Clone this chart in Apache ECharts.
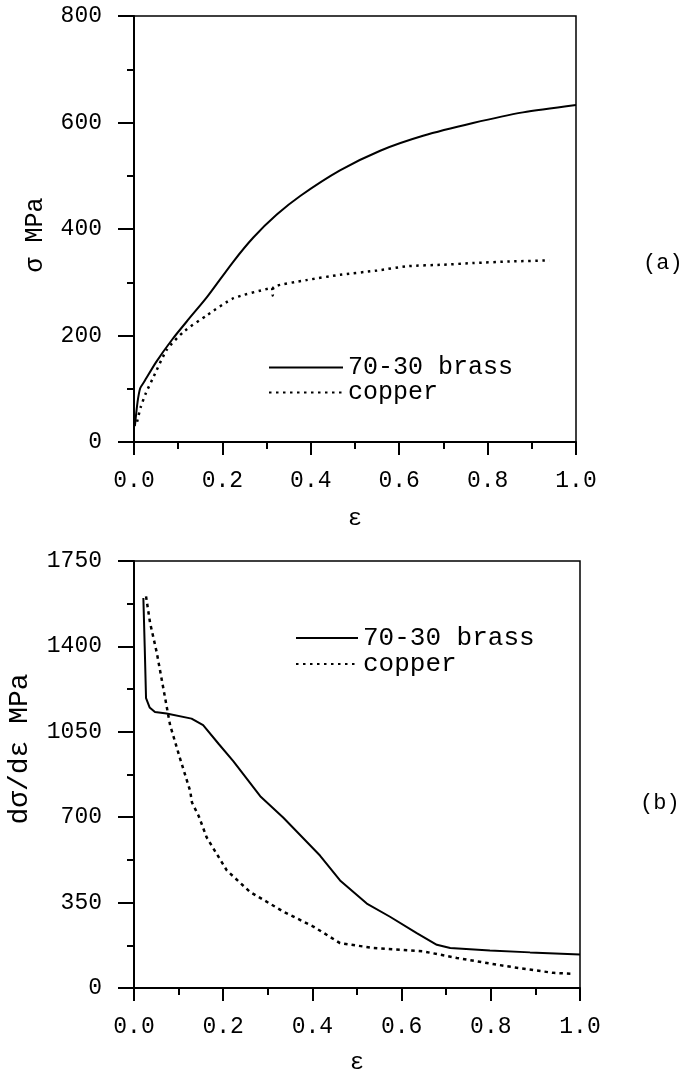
<!DOCTYPE html>
<html>
<head>
<meta charset="utf-8">
<script src="https://cdn.jsdelivr.net/npm/echarts@6/dist/echarts.min.js"></script>
<style>
  html, body { margin: 0; padding: 0; background: #fff; }
  #chart { width: 681px; height: 1076px; }
</style>
</head>
<body>
<div id="chart"></div>
<script>
// (a) true stress vs strain
const strainBrassA = [0.002, 0.008, 0.014, 0.023, 0.05, 0.086, 0.125, 0.165, 0.224, 0.27, 0.323, 0.376, 0.466, 0.557, 0.654, 0.767, 0.88, 1.0];
const stressBrassA = [30, 75, 101, 113, 150, 192, 232, 272, 338, 384, 427, 462, 510, 547, 575, 599, 619, 633];
const strainCopperA = [0.007, 0.015, 0.027, 0.044, 0.074, 0.112, 0.165, 0.225, 0.308, 0.312, 0.314, 0.316, 0.39, 0.466, 0.55, 0.617, 0.7, 0.767, 0.85, 0.94];
const stressCopperA = [38, 65, 92, 122, 173, 207, 238, 270, 289, 290, 275, 291, 304, 314, 322, 330, 333, 336, 339, 341];

// (b) work hardening rate vs strain
const strainBrassB = [0.021, 0.024, 0.027, 0.035, 0.047, 0.073, 0.129, 0.155, 0.19, 0.223, 0.283, 0.335, 0.417, 0.462, 0.522, 0.574, 0.634, 0.679, 0.709, 0.798, 0.888, 1.0];
const rateBrassB = [1598, 1400, 1188, 1150, 1131, 1125, 1104, 1077, 1000, 929, 786, 698, 543, 441, 346, 292, 225, 177, 164, 154, 146, 137];
const strainCopperB = [0.027, 0.036, 0.051, 0.066, 0.081, 0.103, 0.126, 0.13, 0.145, 0.163, 0.208, 0.26, 0.335, 0.402, 0.462, 0.537, 0.649, 0.724, 0.836, 0.94, 0.985];
const rateCopperB = [1605, 1497, 1375, 1226, 1077, 942, 807, 760, 705, 617, 482, 394, 313, 252, 184, 164, 150, 123, 89, 62, 58];

const seriesNames = ['70-30 brass', 'copper'];
const panelLabels = ['(a)', '(b)'];
const yNames = ['σ MPa', 'dσ/dε MPa'];

const FONT = 'Liberation Mono';
const zip = (xs, ys) => xs.map((x, i) => [x, ys[i]]);

const xAxisBase = (gridIndex, nameGap) => ({
  gridIndex,
  type: 'value',
  min: 0,
  max: 1,
  interval: 0.2,
  name: 'ε',
  nameLocation: 'middle',
  nameGap,
  nameTextStyle: { color: '#000', fontFamily: FONT, fontSize: 24 },
  axisLine: { lineStyle: { color: '#000', width: 2 } },
  axisTick: { inside: false, length: 13, lineStyle: { color: '#000', width: 2 } },
  minorTick: { show: true, splitNumber: 2, length: 7, lineStyle: { color: '#000', width: 2 } },
  splitLine: { show: false },
  axisLabel: {
    margin: 27,
    color: '#000',
    fontFamily: FONT,
    fontSize: 23,
    formatter: v => v.toFixed(1)
  }
});

const yAxisBase = (gridIndex, max, interval) => ({
  gridIndex,
  type: 'value',
  min: 0,
  max,
  interval,
  axisLine: { lineStyle: { color: '#000', width: 2 } },
  axisTick: { inside: false, length: 16, lineStyle: { color: '#000', width: 2 } },
  minorTick: { show: true, splitNumber: 2, length: 7, lineStyle: { color: '#000', width: 2 } },
  splitLine: { show: false },
  axisLabel: { margin: 32, color: '#000', fontFamily: FONT, fontSize: 23, formatter: v => String(v) }
});

const lineSeries = (name, idx, data, dash, smooth) => ({
  name,
  type: 'line',
  xAxisIndex: idx,
  yAxisIndex: idx,
  data,
  symbol: 'none',
  showSymbol: false,
  smooth: smooth || false,
  itemStyle: { color: '#000' },
  lineStyle: { color: '#000', width: dash ? 2.5 : 2, type: dash || 'solid' }
});

const legendBase = (left, top, itemWidth, fontSize) => ({
  left,
  top,
  orient: 'vertical',
  padding: 0,
  itemWidth,
  itemHeight: 14,
  itemGap: 0,
  selectedMode: false,
  itemStyle: { opacity: 0 },
  data: seriesNames,
  textStyle: { color: '#000', fontFamily: FONT, fontSize, lineHeight: fontSize }
});

const yNameText = (text, x, y, fontSize) => ({
  type: 'text',
  x,
  y,
  rotation: Math.PI / 2,
  style: { text, fill: '#000', font: fontSize + 'px "' + FONT + '"', align: 'center', verticalAlign: 'middle' }
});

const option = {
  backgroundColor: '#fff',
  animation: false,
  title: [
    { text: panelLabels[0], left: 643, top: 252, padding: 0, textStyle: { color: '#000', fontFamily: FONT, fontSize: 22, fontWeight: 'normal' } },
    { text: panelLabels[1], left: 640, top: 792, padding: 0, textStyle: { color: '#000', fontFamily: FONT, fontSize: 22, fontWeight: 'normal' } }
  ],
  graphic: [
    yNameText(yNames[0], 35, 235, 25),
    yNameText(yNames[1], 20, 749, 28)
  ],
  grid: [
    { left: 134, top: 16, width: 442, height: 426, show: true, borderColor: '#000', borderWidth: 1.5, backgroundColor: 'transparent' },
    { left: 134, top: 561, width: 446, height: 431, show: true, borderColor: '#000', borderWidth: 1.5, backgroundColor: 'transparent' }
  ],
  legend: [
    legendBase(268, 355, 74, 25),
    legendBase(295, 625, 62, 26)
  ],
  xAxis: [xAxisBase(0, 65), xAxisBase(1, 63)],
  yAxis: [yAxisBase(0, 800, 200), yAxisBase(1, 1750, 350)],
  series: [
    lineSeries(seriesNames[0], 0, zip(strainBrassA, stressBrassA), null, 0.25),
    lineSeries(seriesNames[1], 0, zip(strainCopperA, stressCopperA), [2.5, 4.5], 0.2),
    lineSeries(seriesNames[0], 1, zip(strainBrassB, rateBrassB)),
    lineSeries(seriesNames[1], 1, zip(strainCopperB, rateCopperB), [3.5, 4])
  ]
};

const chart = echarts.init(document.getElementById('chart'));
chart.setOption(option);
</script>
</body>
</html>
